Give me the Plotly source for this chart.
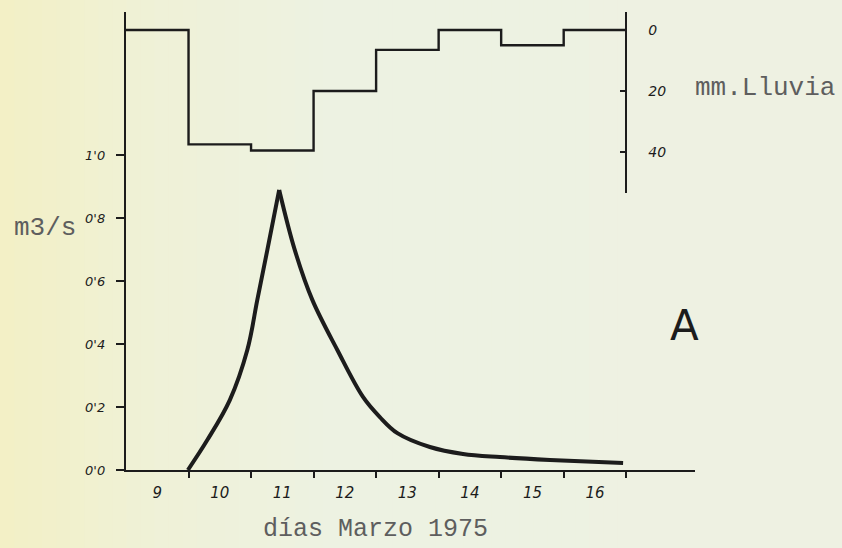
import plotly.graph_objects as go

# --- data -------------------------------------------------------------
# daily rainfall (mm) for days 9..16 of March 1975, bins start at each day
dias_lluvia = [9, 10, 11, 12, 13, 14, 15, 16, 17]
lluvia_mm = [0, 37.5, 39.5, 20, 6.5, 0, 5, 0, 0]

# discharge hydrograph (m3/s), time in days of March
dias_caudal = [9.99, 10.30, 10.66, 10.94, 11.10, 11.26, 11.45, 11.70, 11.98,
               12.38, 12.79, 13.06, 13.34, 13.86, 14.39, 14.98, 15.78, 16.95]
caudal = [0.0, 0.095, 0.222, 0.381, 0.54, 0.698, 0.889, 0.698, 0.54,
          0.381, 0.232, 0.168, 0.117, 0.073, 0.051, 0.041, 0.032, 0.022]

# axis ticks
q_ticks = [0.0, 0.2, 0.4, 0.6, 0.8, 1.0]
q_ticktext = ["0'0", "0'2", "0'4", "0'6", "0'8", "1'0"]
dia_bordes = [10, 11, 12, 13, 14, 15, 16, 17]
dia_centros = [9.5, 10.5, 11.5, 12.5, 13.5, 14.5, 15.5, 16.5]
dia_etiquetas = ["9", "10", "11", "12", "13", "14", "15", "16"]
mm_ticks = [0, 20, 40]

# --- layout constants -------------------------------------------------
W, H = 842, 548
ML, MR, MT, MB = 126, 147, 12, 78
X_RANGE = [9.0, 18.1]
Q_RANGE = [0.0, 1.454]
MM_RANGE = [53.4, -5.9]          # reversed: rain hangs from the top
MM_DOMAIN = [0.605, 1.0]
INK = "#1c1c1c"
hand = dict(family="DejaVu Sans", style="italic", color=INK)
typewriter = dict(family="Liberation Mono", color="#5e5e5e")

fig = go.Figure()

# hyetograph (step line)
fig.add_trace(go.Scatter(
    x=dias_lluvia, y=lluvia_mm, xaxis="x2", yaxis="y2",
    mode="lines", line=dict(shape="hv", color=INK, width=2.4),
    hoverinfo="skip", showlegend=False))

# hydrograph: rising and falling limbs meet in a sharp peak
i_pico = caudal.index(max(caudal))
for sl in (slice(0, i_pico + 1), slice(i_pico, None)):
    fig.add_trace(go.Scatter(
        x=dias_caudal[sl], y=caudal[sl], mode="lines",
        line=dict(shape="spline", smoothing=1.0, color=INK, width=4),
        showlegend=False))

# right-hand rain axis sits at the end of day 16
pos_mm = (dias_lluvia[-1] - X_RANGE[0]) / (X_RANGE[1] - X_RANGE[0])

# soft paper background: yellowish on the left fading to pale green
def mix(c1, c2, t):
    return "rgb(%d,%d,%d)" % tuple(round(a + (b - a) * t) for a, b in zip(c1, c2))

stops = [(0.0, (243, 240, 197)), (0.18, (239, 241, 215)),
         (0.40, (237, 242, 226)), (1.0, (238, 241, 226))]
shapes = []
n_strips = 60
pw = W - ML - MR
ph = H - MT - MB
for i in range(n_strips):
    f0, f1 = i / n_strips, (i + 1) / n_strips
    fm = (f0 + f1) / 2
    for (a, ca), (b, cb) in zip(stops[:-1], stops[1:]):
        if a <= fm <= b:
            col = mix(ca, cb, (fm - a) / (b - a))
            break
    shapes.append(dict(
        type="rect", xref="paper", yref="paper", layer="below",
        x0=(f0 * W - ML) / pw, x1=(f1 * W - ML) / pw + 0.002,
        y0=-MB / ph - 0.01, y1=1 + MT / ph + 0.01,
        line=dict(width=0), fillcolor=col))

fig.update_layout(
    width=W, height=H,
    margin=dict(l=ML, r=MR, t=MT, b=MB),
    paper_bgcolor="rgb(238,241,224)",
    plot_bgcolor="rgba(0,0,0,0)",
    shapes=shapes,
    xaxis=dict(
        range=X_RANGE, showgrid=False, zeroline=False,
        showline=True, linecolor=INK, linewidth=2.4,
        tickvals=dia_bordes, ticktext=[""] * len(dia_bordes),
        ticks="outside", ticklen=6, tickwidth=2, tickcolor=INK),
    xaxis2=dict(
        range=X_RANGE, overlaying="x", anchor="y", side="bottom",
        showgrid=False, zeroline=False, showline=False,
        tickvals=dia_centros, ticktext=dia_etiquetas,
        ticks="", ticklabelstandoff=12,
        tickfont=dict(size=15, **hand)),
    yaxis=dict(
        range=Q_RANGE, showgrid=False, zeroline=False,
        showline=True, linecolor=INK, linewidth=2.4,
        tickvals=q_ticks, ticktext=q_ticktext,
        ticks="outside", ticklen=8, tickwidth=2, tickcolor=INK,
        ticklabelstandoff=8, tickfont=dict(size=13, **hand)),
    yaxis2=dict(
        range=MM_RANGE, domain=MM_DOMAIN, anchor="free",
        position=pos_mm, side="right",
        showgrid=False, zeroline=False,
        showline=True, linecolor=INK, linewidth=2.4,
        tickvals=mm_ticks, ticks="inside", ticklen=5, tickwidth=2,
        tickcolor=INK, ticklabelstandoff=18,
        tickfont=dict(size=14, **hand)),
    annotations=[
        dict(text="m3/s", xref="paper", yref="y", x=(12 - ML) / pw, y=0.768,
             xanchor="left", yanchor="middle", showarrow=False,
             font=dict(size=26, **typewriter)),
        dict(text="mm.Lluvia", xref="paper", yref="paper",
             x=(693 - ML) / pw, y=(H - MB - 88) / ph,
             xanchor="left", yanchor="middle", showarrow=False,
             font=dict(size=26, **typewriter)),
        dict(text="días Marzo 1975", xref="paper", yref="paper",
             x=(375 - ML) / pw, y=-(529 - (H - MB)) / ph,
             xanchor="center", yanchor="middle", showarrow=False,
             font=dict(size=25, **typewriter)),
        dict(text="A", xref="paper", yref="paper",
             x=(684 - ML) / pw, y=(H - MB - 326) / ph,
             xanchor="center", yanchor="middle", showarrow=False,
             font=dict(size=42, family="DejaVu Sans", color=INK)),
    ],
)

fig.write_html("out.html")
